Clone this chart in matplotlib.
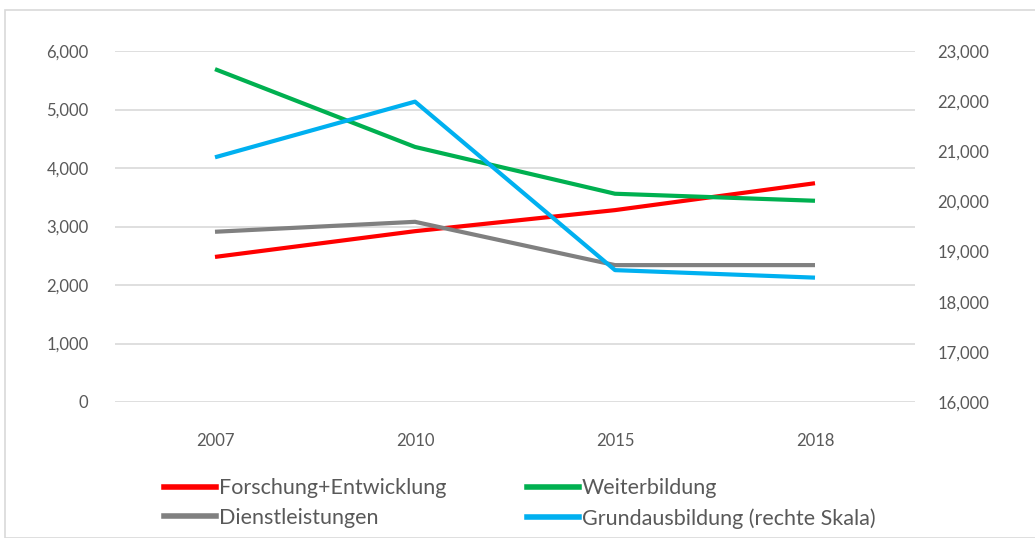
import matplotlib.pyplot as plt
from matplotlib.lines import Line2D
from matplotlib.patches import Rectangle


years = ["2007", "2010", "2015", "2018"]
forschung = [2480, 2920, 3280, 3740]
weiterbildung = [5690, 4360, 3560, 3440]
dienstleistungen = [2910, 3080, 2340, 2340]
grundausbildung = [20880, 21990, 18630, 18480]  # rechte Skala

left_ticks = [0, 1000, 2000, 3000, 4000, 5000, 6000]
right_ticks = [16000, 17000, 18000, 19000, 20000, 21000, 22000, 23000]

TEXT = "#595959"
GRID = "#D9D9D9"

plt.rcParams["font.family"] = ["Lato", "DejaVu Sans"]

fig = plt.figure(figsize=(10.35, 5.38), dpi=100)
fig.patches.append(Rectangle((5 / 1035, 0), 1.1, 1 - 10 / 538, transform=fig.transFigure,
                             fill=False, edgecolor="#D9D9D9", linewidth=1.2))

ax = fig.add_axes([115 / 1035, 1 - 402 / 538, 800 / 1035, 351 / 538])
ax2 = ax.twinx()

x = range(len(years))
ax.plot(x, forschung, color="#FF0000", linewidth=3, solid_capstyle="butt")
ax.plot(x, weiterbildung, color="#00B050", linewidth=3, solid_capstyle="butt")
ax.plot(x, dienstleistungen, color="#808080", linewidth=3, solid_capstyle="butt")
ax2.plot(x, grundausbildung, color="#00B0F0", linewidth=3, solid_capstyle="butt")

ax.set_xlim(-0.5, len(years) - 0.5)
ax.set_ylim(0, 6000)
ax2.set_ylim(16000, 23000)
ax.set_yticks(left_ticks)
ax2.set_yticks(right_ticks)
ax.set_yticklabels([f"{v:,}" for v in left_ticks])
ax2.set_yticklabels([f"{v:,}" for v in right_ticks])
ax.set_xticks(list(x))
ax.set_xticklabels(years)

ax.grid(axis="y", color=GRID, linewidth=1.2)
ax.set_axisbelow(True)
for a in (ax, ax2):
    for spine in a.spines.values():
        spine.set_visible(False)
ax.tick_params(axis="y", length=0, pad=19, labelsize=12, labelcolor=TEXT)
ax.tick_params(axis="x", length=0, pad=22, labelsize=12, labelcolor=TEXT)
ax2.tick_params(axis="y", length=0, pad=16, labelsize=12, labelcolor=TEXT)

handles = [
    Line2D([], [], color="#FF0000", linewidth=4),
    Line2D([], [], color="#808080", linewidth=4),
    Line2D([], [], color="#00B050", linewidth=4),
    Line2D([], [], color="#00B0F0", linewidth=4),
]
labels = ["Forschung+Entwicklung", "Dienstleistungen", "Weiterbildung", "Grundausbildung (rechte Skala)"]
fig.legend(handles, labels, ncol=2, loc="upper left", bbox_to_anchor=(147 / 1035, 1 - 461 / 538),
           frameon=False, fontsize=15.5, labelcolor=TEXT, handlelength=2.4, handletextpad=0.15,
           columnspacing=3.75, labelspacing=0.45, borderpad=0.3)

fig.savefig("out.png", dpi=100)
